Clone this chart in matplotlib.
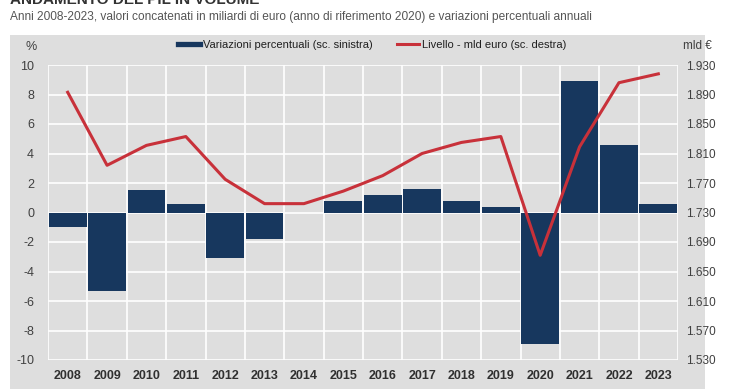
import numpy as np
import matplotlib.pyplot as plt
from matplotlib.lines import Line2D

plt.rcParams['font.family'] = ['Liberation Sans', 'DejaVu Sans']

'''
Dati
'''
anni = ['2008', '2009', '2010', '2011', '2012', '2013', '2014', '2015',
        '2016', '2017', '2018', '2019', '2020', '2021', '2022', '2023']
variazioni = [-1.0, -5.3, 1.5, 0.6, -3.1, -1.8, 0.0, 0.8,
              1.2, 1.6, 0.8, 0.4, -8.9, 8.9, 4.6, 0.6]
livello = [1893, 1794, 1821, 1833, 1775, 1742, 1742, 1759,
           1780, 1810, 1825, 1833, 1672, 1819, 1906, 1918]
tick_sx = np.arange(-10, 11, 2)
tick_dx = np.arange(1530, 1931, 40)

fondo = '#dedede'
blu = '#17375e'
rosso = '#c8313a'
grigio_testo = '#404040'

fig = plt.figure(figsize=(7.4, 3.89), dpi=100)

# pannello grigio dietro al grafico
bg = fig.add_axes([10 / 740, 0, 695 / 740, 354 / 389], zorder=-1)
bg.set_facecolor(fondo)
bg.set_xticks([])
bg.set_yticks([])
for s in bg.spines.values():
    s.set_visible(False)

ax = fig.add_axes([48 / 740, 29 / 389, 630 / 740, 295 / 389])
ax.set_facecolor(fondo)
x = np.arange(len(anni))
ax.bar(x, variazioni, width=0.96, color=blu, zorder=2)
ax.set_xlim(-0.5, len(anni) - 0.5)
ax.set_ylim(-10, 10)
ax.set_yticks(tick_sx)
ax.set_yticklabels([str(t) for t in tick_sx], fontsize=9, color=grigio_testo)
ax.set_xticks(x)
ax.set_xticklabels(anni, fontsize=9, fontweight='bold', color='#303030')
ax.tick_params(length=0, pad=7)
ax.tick_params(axis='y', pad=10)
for t in tick_sx:
    ax.axhline(t, color='white', lw=1.2, zorder=1)
for b in np.arange(-0.5, len(anni), 1):
    ax.axvline(b, color='white', lw=1.2, zorder=1)
for s in ax.spines.values():
    s.set_visible(False)

ax2 = ax.twinx()
ax2.plot(x, livello, color=rosso, lw=2.2, zorder=3)
ax2.set_ylim(1530, 1930)
ax2.set_yticks(tick_dx)
ax2.set_yticklabels(['1.%03d' % (t - 1000) for t in tick_dx],
                    fontsize=8.5, color=grigio_testo)
ax2.tick_params(length=0, pad=6)
for s in ax2.spines.values():
    s.set_visible(False)

fig.text(25 / 740, 1 - 47 / 389, '%', fontsize=9, color=grigio_testo,
         ha='left', va='center')
fig.text(683 / 740, 1 - 46 / 389, 'mld €', fontsize=8.5, color=grigio_testo,
         ha='left', va='center')

handles = [Line2D([], [], color=blu, lw=3.8),
           Line2D([], [], color=rosso, lw=2.2)]
fig.legend(handles, ['Variazioni percentuali (sc. sinistra)',
                     'Livello - mld euro (sc. destra)'],
           loc='center', bbox_to_anchor=(372 / 740, 1 - 45 / 389), ncol=2,
           frameon=False, fontsize=8, handlelength=2.0, handletextpad=0.25,
           columnspacing=2.2, labelcolor='#202020')

fig.text(10 / 740, 1.0, 'ANDAMENTO DEL PIL IN VOLUME', fontsize=11,
         fontweight='bold', color='#333333', ha='left', va='center')
fig.text(10 / 740, 1 - 17 / 389,
         'Anni 2008-2023, valori concatenati in miliardi di euro '
         '(anno di riferimento 2020) e variazioni percentuali annuali',
         fontsize=8.6, color='#555555', ha='left', va='center')

fig.savefig('out.png', dpi=100)
